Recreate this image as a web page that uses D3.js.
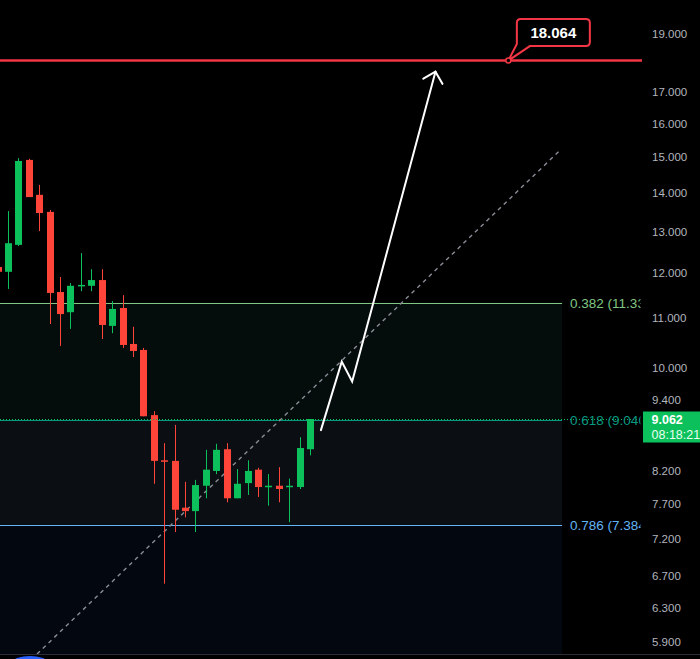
<!DOCTYPE html>
<html>
<head>
<meta charset="utf-8">
<script src="https://cdn.jsdelivr.net/npm/d3@7"></script>
<style>
  html, body { margin: 0; padding: 0; background: #000; }
  svg { display: block; }
  text { font-family: "Liberation Sans", Arial, sans-serif; }
</style>
</head>
<body>
<svg id="chart" width="700" height="659"></svg>
<script>
// ---------------- data ----------------
const opens  = [12.14,12.03,12.67,14.92,13.95,13.50,11.57,11.13,11.72,11.71,11.84,10.84,11.22,10.47,10.35,9.13,8.37,8.36,7.64,7.59,7.97,8.20,8.55,7.78,8.01,8.22,7.96,7.97,7.96,7.95,8.55];
const highs  = [12.25,13.52,14.97,14.95,14.22,13.55,11.91,11.77,12.47,12.09,12.09,11.37,11.50,10.82,10.39,9.20,8.65,8.96,8.03,8.06,8.54,8.64,8.65,8.23,8.37,8.25,8.15,8.26,8.08,8.75,9.062];
const lows   = [11.95,11.64,12.64,13.89,13.01,10.88,10.43,10.78,11.59,11.59,10.57,10.69,10.39,10.21,9.11,8.00,6.60,7.29,7.50,7.29,7.78,8.15,7.72,7.78,7.83,7.80,7.67,7.72,7.43,7.92,8.45];
const closes = [12.03,12.71,14.89,13.89,13.47,11.55,11.09,11.71,11.73,11.84,10.86,11.20,10.45,10.33,9.11,8.36,8.36,7.61,7.59,7.98,8.22,8.54,7.78,8.00,8.20,7.95,7.97,7.92,7.97,8.57,9.062];

const tickValues = [19, 17, 16, 15, 14, 13, 12, 11, 10, 9.4, 8.2, 7.7, 7.2, 6.7, 6.3, 5.9];

const fibRatios = [0.382, 0.618, 0.786];
const fibPrices = [11.336, 9.040, 7.384];
const fibRightIndex = 54.16;

const targetPrice = 18.064;
const targetAnchorIndex = 49;
const lastPrice = 9.062;
const countdown = "08:18:21";

const trendLine = [[3.74, 5.765], [54, 15.21]];          // [index, price]
const arrowPath = [[31, 8.87], [33, 10.12], [34, 9.74], [42, 17.68]];

// ---------------- layout ----------------
const W = 700, H = 659, paneRight = 642, paneBottom = 654;
const green = "#0cc15c", red = "#ff4439";
const fibColors = ["#81c784", "#089981", "#64b5f6"];
const zoneFills = ["#050c0c", "#0b0f13", "#03070f"];

const svg = d3.select("#chart");
svg.append("rect").attr("width", W).attr("height", H).attr("fill", "#000");

const x = d3.scaleLinear().domain([0, 30]).range([-1.9, 310.5]);
const y = d3.scaleLog().domain([19, 5.9]).range([34.3, 642]);

const defs = svg.append("defs");
defs.append("clipPath").attr("id", "pane")
  .append("rect").attr("x", 0).attr("y", 0).attr("width", paneRight).attr("height", paneBottom);
defs.append("clipPath").attr("id", "labels")
  .append("rect").attr("x", 0).attr("y", 0).attr("width", 640.5).attr("height", paneBottom);

const pane = svg.append("g").attr("clip-path", "url(#pane)");

// fib zones
const fibX1 = x(fibRightIndex);
const zoneBounds = [
  [y(fibPrices[0]), y(fibPrices[1])],
  [y(fibPrices[1]), y(fibPrices[2])],
  [y(fibPrices[2]), paneBottom]
];
pane.selectAll("rect.zone").data(zoneBounds).join("rect")
  .attr("class", "zone")
  .attr("x", 0).attr("width", fibX1)
  .attr("y", d => d[0]).attr("height", d => d[1] - d[0])
  .attr("fill", (d, i) => zoneFills[i]);

// fib lines
pane.selectAll("line.fib").data(fibPrices).join("line")
  .attr("class", "fib")
  .attr("x1", 0).attr("x2", fibX1)
  .attr("y1", d => Math.round(y(d)) + 0.5).attr("y2", d => Math.round(y(d)) + 0.5)
  .attr("stroke", (d, i) => fibColors[i]).attr("stroke-width", 1.2);

svg.append("g").attr("clip-path", "url(#labels)")
  .selectAll("text.fib").data(fibPrices).join("text")
  .attr("class", "fib")
  .attr("x", fibX1 + 8)
  .attr("y", d => y(d))
  .attr("dy", "0.36em")
  .attr("font-size", 13.5)
  .attr("fill", (d, i) => fibColors[i])
  .text((d, i) => `${fibRatios[i]} (${d3.format(".3f")(d)})`);

// trend line (dashed)
const line = d3.line().x(d => x(d[0])).y(d => y(d[1]));
pane.append("path")
  .attr("d", line(trendLine))
  .attr("fill", "none")
  .attr("stroke", "#8a8d96")
  .attr("stroke-width", 1.4)
  .attr("stroke-dasharray", "4,4");

// candles
const idx = d3.range(opens.length);
const cx = i => Math.floor(x(i)) + 0.5;
const candles = pane.append("g");
candles.selectAll("line.wick").data(idx).join("line")
  .attr("class", "wick")
  .attr("x1", cx).attr("x2", cx)
  .attr("y1", i => y(highs[i])).attr("y2", i => y(lows[i]))
  .attr("stroke", i => closes[i] >= opens[i] ? green : red)
  .attr("stroke-width", 1);
candles.selectAll("rect.body").data(idx).join("rect")
  .attr("class", "body")
  .attr("x", i => cx(i) - 3.5)
  .attr("width", 7)
  .attr("y", i => Math.min(y(opens[i]), y(closes[i])))
  .attr("height", i => Math.max(1.5, Math.abs(y(opens[i]) - y(closes[i]))))
  .attr("fill", i => closes[i] >= opens[i] ? green : red);

// current price dotted line
pane.append("line")
  .attr("x1", 0).attr("x2", paneRight)
  .attr("y1", Math.round(y(lastPrice)) + 0.5).attr("y2", Math.round(y(lastPrice)) + 0.5)
  .attr("stroke", green).attr("stroke-width", 1)
  .attr("stroke-dasharray", "1,2");

// white arrow
pane.append("path")
  .attr("d", line(arrowPath))
  .attr("fill", "none").attr("stroke", "#fff").attr("stroke-width", 2)
  .attr("stroke-linejoin", "miter").attr("stroke-linecap", "round");
{
  const p1 = arrowPath[arrowPath.length - 2], p2 = arrowPath[arrowPath.length - 1];
  const tx = x(p2[0]), ty = y(p2[1]);
  const ang = Math.atan2(y(p1[1]) - ty, x(p1[0]) - tx);
  const L = 14, a = Math.PI / 4;
  const w1 = [tx + L * Math.cos(ang + a), ty + L * Math.sin(ang + a)];
  const w2 = [tx + L * Math.cos(ang - a), ty + L * Math.sin(ang - a)];
  pane.append("path")
    .attr("d", `M${w1[0]},${w1[1]} L${tx},${ty} L${w2[0]},${w2[1]}`)
    .attr("fill", "none").attr("stroke", "#fff").attr("stroke-width", 2)
    .attr("stroke-linecap", "round").attr("stroke-linejoin", "miter");
}

// target line
const ty0 = y(targetPrice);
svg.append("line")
  .attr("x1", 0).attr("x2", paneRight)
  .attr("y1", ty0).attr("y2", ty0)
  .attr("stroke", "#f23645").attr("stroke-width", 2.5);

// callout
{
  const ax = x(targetAnchorIndex), ay = ty0;
  const l = ax + 8.5, r = ax + 81.5, t = ay - 41.5, b = ay - 14.5, rr = 4;
  const d = `M${l + rr},${t} H${r - rr} Q${r},${t} ${r},${t + rr} V${b - rr} Q${r},${b} ${r - rr},${b} ` +
            `H${l + 13} L${ax},${ay} L${l},${b - 2} V${t + rr} Q${l},${t} ${l + rr},${t} Z`;
  svg.append("path").attr("d", d)
    .attr("fill", "#000").attr("stroke", "#f23645").attr("stroke-width", 2);
  svg.append("circle").attr("cx", ax).attr("cy", ay).attr("r", 2.5)
    .attr("fill", "#000").attr("stroke", "#f23645").attr("stroke-width", 1.5);
  svg.append("text")
    .attr("x", (l + r) / 2).attr("y", (t + b) / 2).attr("dy", "0.36em")
    .attr("text-anchor", "middle")
    .attr("font-size", 15).attr("font-weight", "bold").attr("fill", "#fff")
    .text(d3.format(".3f")(targetPrice));
}

// right axis
const axis = d3.axisRight(y).tickValues(tickValues).tickFormat(d3.format(".3f")).tickSize(0).tickPadding(0);
const ag = svg.append("g").attr("transform", "translate(652,0)").call(axis);
ag.select(".domain").remove();
ag.selectAll("text").attr("font-size", 11.5).attr("fill", "#b2b5be")
  .attr("font-family", "'Liberation Sans', Arial, sans-serif");

// last price label
{
  const py = y(lastPrice);
  svg.append("rect").attr("x", 643).attr("y", py - 7.5).attr("width", 57).attr("height", 31).attr("fill", green);
  svg.append("text").attr("x", 651.5).attr("y", py + 5).attr("font-size", 12.5).attr("font-weight", "bold")
    .attr("fill", "#fff").text(d3.format(".3f")(lastPrice));
  svg.append("text").attr("x", 651.5).attr("y", py + 19.5).attr("font-size", 12.5)
    .attr("fill", "#e8fff0").text(countdown);
}

// bottom border + partial icon
svg.append("line").attr("x1", 0).attr("x2", W).attr("y1", paneBottom + 0.5).attr("y2", paneBottom + 0.5)
  .attr("stroke", "#2a2e39").attr("stroke-width", 1);
svg.append("ellipse").attr("cx", 30).attr("cy", 662).attr("rx", 17).attr("ry", 6).attr("fill", "#2962ff");
</script>
</body>
</html>
